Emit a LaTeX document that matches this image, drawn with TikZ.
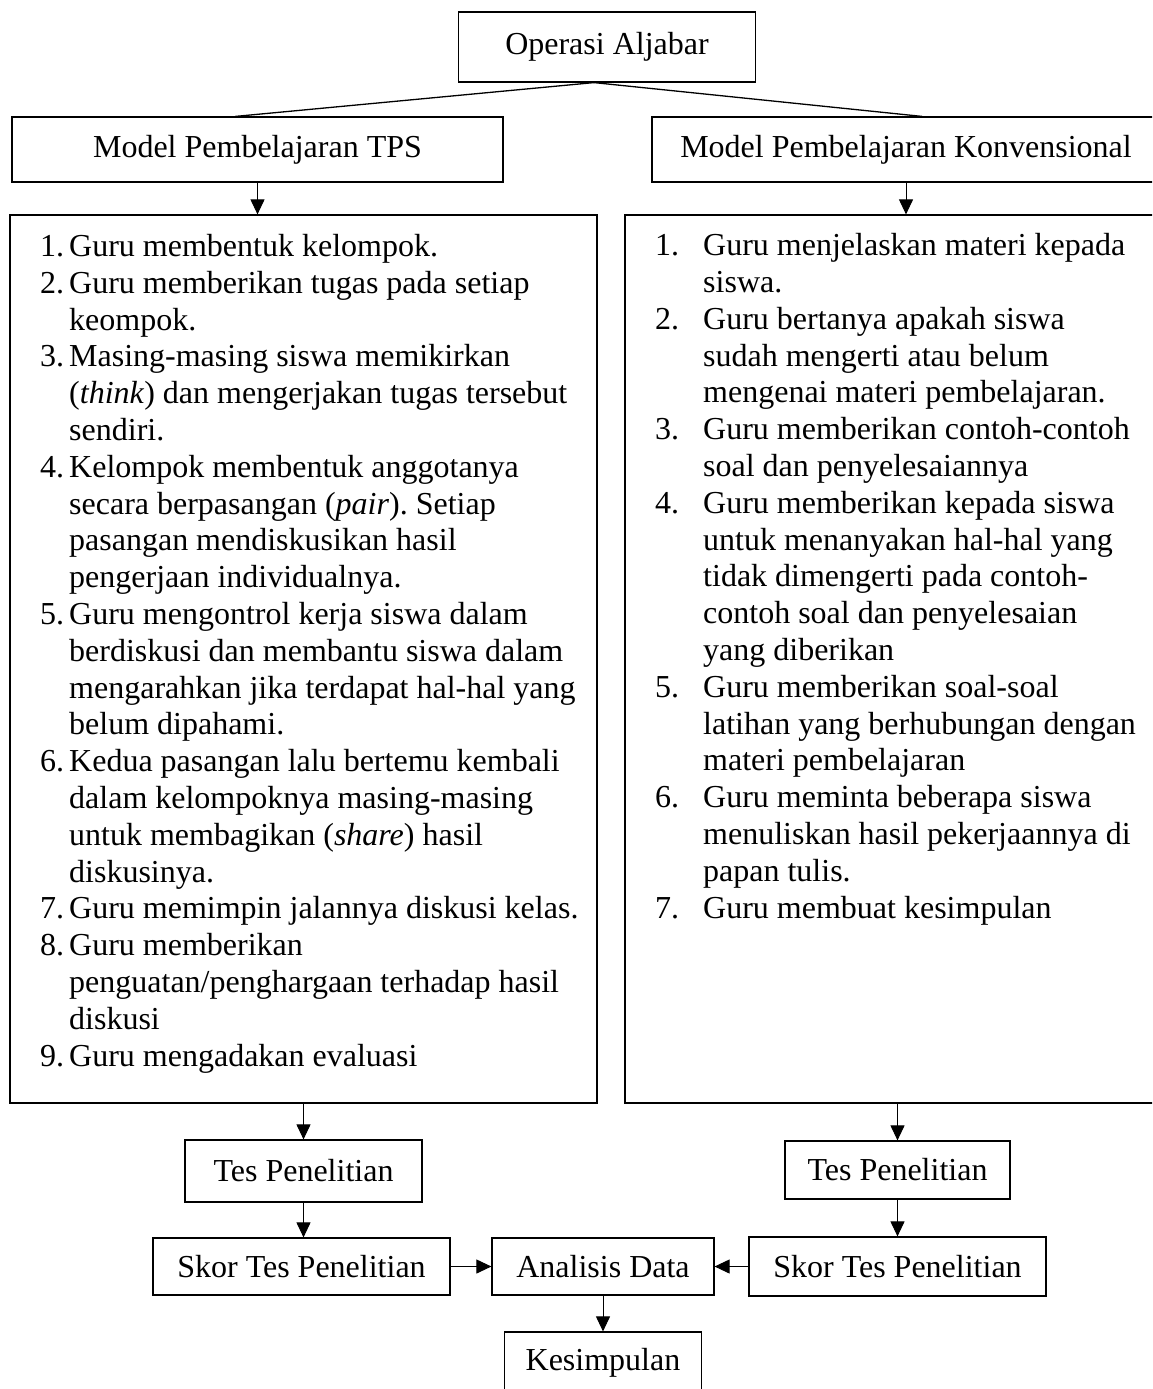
\documentclass[tikz,border=0pt]{standalone}
\usepackage{fontspec}
\setmainfont{Liberation Serif}
\usetikzlibrary{arrows.meta,positioning,calc}
\frenchspacing

\newcommand{\tpsno}[1]{\makebox[29pt][l]{#1}}
\newcommand{\tpsin}{\hspace*{29pt}}
\newcommand{\konno}[1]{\makebox[48pt][l]{#1}}
\newcommand{\konin}{\hspace*{48pt}}

\begin{document}
\begin{tikzpicture}[
  x=1pt, y=-1pt,
  every node/.style={font=\fontsize{32pt}{36.8pt}\selectfont},
  box/.style={draw, line width=1.2pt, inner sep=0pt},
  link/.style={line width=1.3pt},
  arr/.style={line width=1pt, -{Triangle[length=15pt,width=14pt]}},
]
\clip (0,0) rectangle (1152,1389);

% judul dan dua model
\node[box, minimum width=297pt, minimum height=70pt] (top) at (607,47) {Operasi Aljabar};
\node[box, minimum width=491pt, minimum height=65pt] (tps) at (257.5,149.5) {Model Pembelajaran TPS};
\node[box, minimum width=508pt, minimum height=65pt] (konv) at (906,149.5) {Model Pembelajaran Konvensional};
\draw[link] ([xshift=-13pt]top.south) -- ([xshift=-22pt]tps.north);
\draw[link] ([xshift=-13pt]top.south) -- ([xshift=16pt]konv.north);

% langkah-langkah
\node[box, minimum width=587pt, minimum height=888pt] (stepsL) at (303.5,659) {};
\node[box, minimum width=535pt, minimum height=888pt] (stepsK) at (892.5,659) {};
\draw[arr] (tps.south) -- (tps.south |- stepsL.north);
\draw[arr] (konv.south) -- (konv.south |- stepsK.north);

% base = baris terakhir
\node[anchor=base west, align=left, inner sep=0pt] (listL) at (40,1066)
  {\tpsno{1.}Guru membentuk kelompok.\\
   \tpsno{2.}Guru memberikan tugas pada setiap\\
   \tpsin keompok.\\
   \tpsno{3.}Masing-masing siswa memikirkan\\
   \tpsin(\emph{think}) dan mengerjakan tugas tersebut\\
   \tpsin sendiri.\\
   \tpsno{4.}Kelompok membentuk anggotanya\\
   \tpsin secara berpasangan (\emph{pair}). Setiap\\
   \tpsin pasangan mendiskusikan hasil\\
   \tpsin pengerjaan individualnya.\\
   \tpsno{5.}Guru mengontrol kerja siswa dalam\\
   \tpsin berdiskusi dan membantu siswa dalam\\
   \tpsin mengarahkan jika terdapat hal-hal yang\\
   \tpsin belum dipahami.\\
   \tpsno{6.}Kedua pasangan lalu bertemu kembali\\
   \tpsin dalam kelompoknya masing-masing\\
   \tpsin untuk membagikan (\emph{share}) hasil\\
   \tpsin diskusinya.\\
   \tpsno{7.}Guru memimpin jalannya diskusi kelas.\\
   \tpsno{8.}Guru memberikan\\
   \tpsin penguatan/penghargaan terhadap hasil\\
   \tpsin diskusi\\
   \tpsno{9.}Guru mengadakan evaluasi};

\node[anchor=base west, align=left, inner sep=0pt] (listK) at (655,918)
  {\konno{1.}Guru menjelaskan materi kepada\\
   \konin siswa.\\
   \konno{2.}Guru bertanya apakah siswa\\
   \konin sudah mengerti atau belum\\
   \konin mengenai materi pembelajaran.\\
   \konno{3.}Guru memberikan contoh-contoh\\
   \konin soal dan penyelesaiannya\\
   \konno{4.}Guru memberikan kepada siswa\\
   \konin untuk menanyakan hal-hal yang\\
   \konin tidak dimengerti pada contoh-\\
   \konin contoh soal dan penyelesaian\\
   \konin yang diberikan\\
   \konno{5.}Guru memberikan soal-soal\\
   \konin latihan yang berhubungan dengan\\
   \konin materi pembelajaran\\
   \konno{6.}Guru meminta beberapa siswa\\
   \konin menuliskan hasil pekerjaannya di\\
   \konin papan tulis.\\
   \konno{7.}Guru membuat kesimpulan};

% tes, skor, analisis
\node[box, minimum width=237pt, minimum height=62pt] (tesL) at (303.5,1171) {Tes Penelitian};
\node[box, minimum width=225pt, minimum height=58pt] (tesK) at (897.5,1170) {Tes Penelitian};
\draw[arr] (stepsL.south) -- (tesL.north);
\draw[arr] (tesK.north |- stepsK.south) -- (tesK.north);

\node[box, minimum width=297pt, minimum height=57pt] (skorL) at (301.5,1266.5) {Skor Tes Penelitian};
\node[box, minimum width=222pt, minimum height=57pt] (data) at (603,1266.5) {Analisis Data};
\node[box, minimum width=297pt, minimum height=59pt] (skorK) at (897.5,1266.5) {Skor Tes Penelitian};
\draw[arr] (tesL.south) -- (tesL.south |- skorL.north);
\draw[arr] (tesK.south) -- (tesK.south |- skorK.north);
\draw[arr] (skorL.east) -- (data.west);
\draw[arr] (skorK.west) -- (data.east);

\node[box, minimum width=197pt, minimum height=62pt] (kes) at (603,1363) {Kesimpulan};
\draw[arr] (data.south) -- (kes.north);
\end{tikzpicture}
\end{document}
